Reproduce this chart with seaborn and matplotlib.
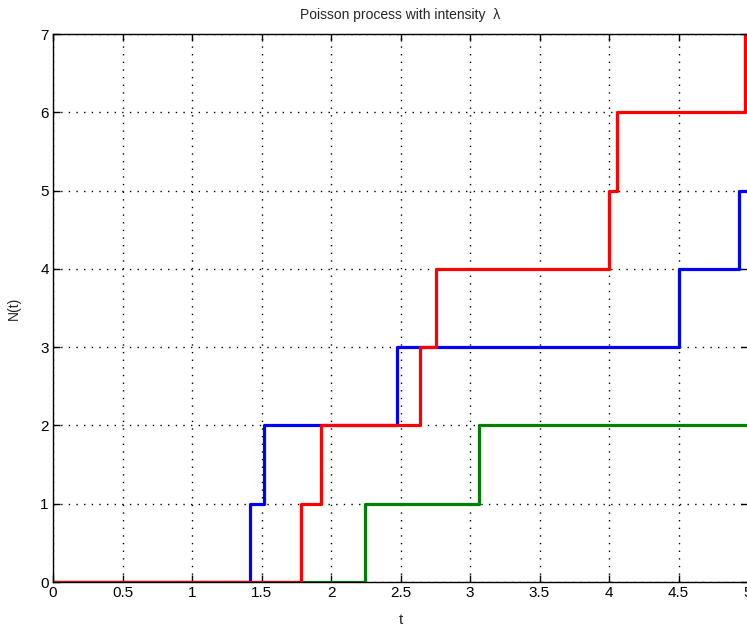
import matplotlib
matplotlib.use("Agg")
import matplotlib.pyplot as plt
import seaborn as sns
import pandas as pd

# Arrival times of each simulated path
blue_jumps = [1.417, 1.52, 2.475, 4.50, 4.935]
green_jumps = [2.245, 3.065]
red_jumps = [1.784, 1.928, 2.64, 2.755, 4.0, 4.058, 4.978]
t_end = 5.0

x_ticks = [0, 0.5, 1, 1.5, 2, 2.5, 3, 3.5, 4, 4.5, 5]
x_tick_labels = ["0", "0.5", "1", "1.5", "2", "2.5", "3", "3.5", "4", "4.5", "5"]
y_ticks = [0, 1, 2, 3, 4, 5, 6, 7]

sns.set_theme(style="white")
plt.rcParams["font.family"] = ["Liberation Sans", "DejaVu Sans"]


def path_frame(jumps, name):
    t = [0.0] + list(jumps) + [t_end]
    n = list(range(len(jumps) + 1)) + [len(jumps)]
    return pd.DataFrame({"t": t, "N": n, "path": name})


paths = [("blue", blue_jumps, "#0000ff"),
         ("green", green_jumps, "#008000"),
         ("red", red_jumps, "#ff0000")]

fig = plt.figure(figsize=(7.47, 6.26), dpi=100)
ax = fig.add_axes([53 / 747, 44 / 626, 695 / 747, 548 / 626])

for name, jumps, color in paths:
    df = path_frame(jumps, name)
    sns.lineplot(data=df, x="t", y="N", ax=ax, estimator=None, sort=False,
                 drawstyle="steps-post", color=color, linewidth=2.3,
                 legend=False)

ax.set_xlim(0, 5)
ax.set_ylim(0, 7)
ax.set_xticks(x_ticks)
ax.set_xticklabels(x_tick_labels)
ax.set_yticks(y_ticks)

ax.grid(True, color="black", linestyle=(0, (1, 4.5)), linewidth=1.0)
ax.set_axisbelow(True)

for side in ["left", "right", "top", "bottom"]:
    ax.spines[side].set_visible(True)
    ax.spines[side].set_color("black")
    ax.spines[side].set_linewidth(1.0)

ax.tick_params(axis="both", which="major", direction="in", length=5,
               width=1.0, color="black", labelsize=11, labelcolor="black",
               top=True, right=True, bottom=True, left=True, pad=3)

ax.set_title("Poisson process with intensity  \u03bb", fontsize=10, pad=11)
ax.set_xlabel("t", fontsize=11, labelpad=9)
ax.set_ylabel("N(t)", fontsize=10, labelpad=14)

fig.savefig("out.png", dpi=100)
